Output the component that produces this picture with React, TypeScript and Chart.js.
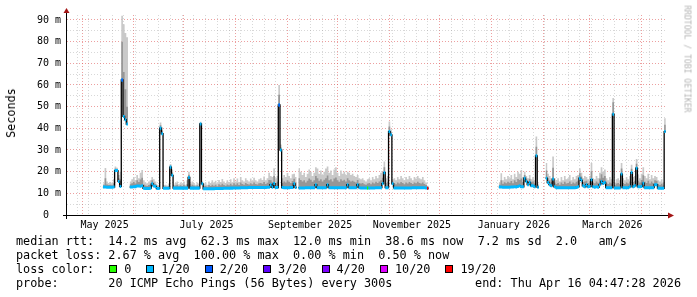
import { useEffect, useRef } from 'react';
import { Chart, registerables } from 'chart.js';

Chart.register(...registerables);

// ---------- time axis (day 0 = left edge of the plot) ----------
const axisStart = '2025-04-22';
const axisSpanDays = 359.2;
const firstWeekLine = '2025-04-28';
const monthStarts = [
  '2025-05-01', '2025-06-01', '2025-07-01', '2025-08-01', '2025-09-01', '2025-10-01',
  '2025-11-01', '2025-12-01', '2026-01-01', '2026-02-01', '2026-03-01', '2026-04-01',
];
const monthLabelStarts = ['2025-05-01', '2025-07-01', '2025-09-01', '2025-11-01', '2026-01-01', '2026-03-01'];
const monthLabels = ['May 2025', 'July 2025', 'September 2025', 'November 2025', 'January 2026', 'March 2026'];

// ---------- value axis (ms) ----------
const yMax = 92.3;
const yMajorValues = [10, 20, 30, 40, 50, 60, 70, 80, 90];
const yMajorLabels = ['10 m', '20 m', '30 m', '40 m', '50 m', '60 m', '70 m', '80 m', '90 m'];
const yZeroLabel = '0  ';
const yMinorValues = [5, 15, 25, 35, 45, 55, 65, 75, 85];

// ---------- measured series (day index from axisStart) ----------
const segAStart = 22;
const medA = [12.9, 12.9, 12.8, 12.8, 12.8, 12.8, 12.9, 20.5, 20.5, 15.5, 13.2, 62.3, 45.5, 44.0, 42.0];
const hiA = [14.5, 21.7, 15.5, 14.8, 15.2, 14.6, 16.5, 22.4, 21.8, 18.5, 20.0, 92.0, 88.0, 84.0, 82.0];
const midA = [13.7, 17.0, 14.1, 13.8, 14.0, 13.7, 14.7, 21.5, 21.1, 17.0, 16.5, 80.0, 66.0, 58.0, 50.0];

const segBStart = 38;
const medB = [
  12.9, 12.9, 13.0, 13.1, 13.4, 13.4, 13.3, 13.5, 12.3, 12.2,
  12.2, 12.2, 12.4, 14.4, 13.4, 13.2, 12.2, 12.2, 40.1, 37.5,
  12.3, 12.3, 12.3, 12.3, 22.1, 18.3, 12.4, 12.4, 12.4, 12.4,
  12.4, 12.4, 12.4, 12.4, 12.4, 17.3, 12.4, 12.4, 12.4, 12.4,
  12.4, 12.4, 42.0, 14.4, 12.1, 12.1, 12.1, 12.1, 12.1, 12.1,
  12.1, 12.2, 12.2, 12.2, 12.2, 12.2, 12.3, 12.3, 12.3, 12.3,
  12.4, 12.4, 12.5, 12.5, 12.5, 12.5, 12.6, 12.6, 12.6, 12.6,
  12.6, 12.7, 12.7, 12.7, 12.7, 12.7, 12.7, 12.7, 12.7, 12.7,
  12.7, 12.7, 12.8, 12.8, 14.0, 12.8, 14.5, 12.7, 12.7, 50.8,
  30.0, 12.7, 12.6, 12.6, 12.6, 12.6, 12.7, 12.7, 14.4, 12.7,
  null, 12.5, 12.5, 12.5, 12.5, 12.6, 12.6, 12.6, 12.6, 12.6,
  12.6, 14.0, 12.6, 12.6, 12.6, 12.6, 12.6, 12.6, 14.0, 12.6,
  12.6, 12.6, 12.6, 12.6, 12.6, 12.6, 12.6, 12.6, 12.6, 12.6,
  14.0, 12.6, 12.6, 12.6, 12.6, 12.6, 14.0, 12.6, 12.5, 12.5,
  12.5, 12.5, 12.5, 12.5, 12.5, 12.5, 12.5, 12.6, 12.6, 12.6,
  12.6, 14.5, 19.5, 12.6, 12.6, 38.5, 37.0, 14.4, 12.5, 12.5,
  12.5, 12.5, 12.5, 12.5, 12.5, 12.5, 12.5, 12.5, 12.5, 12.6,
  12.6, 12.6, 12.6, 12.6, 12.6, 12.6, 12.6, 12.5, 12.3,
];
const hiB = [
  15.5, 16.5, 17.5, 16.0, 18.5, 17.0, 19.5, 20.8, 16.0, 15.0,
  14.5, 15.5, 16.0, 17.5, 16.5, 15.5, 14.0, 13.8, 42.7, 40.5,
  13.8, 14.0, 13.6, 14.5, 23.5, 21.0, 14.0, 14.8, 15.5, 14.2,
  15.0, 14.5, 15.5, 14.0, 16.0, 20.0, 14.5, 15.5, 14.8, 14.0,
  15.0, 14.5, 43.0, 15.5, 14.5, 15.0, 14.0, 15.5, 14.8, 16.0,
  15.0, 15.8, 14.5, 16.2, 15.2, 16.6, 15.5, 14.8, 16.0, 15.2,
  16.5, 15.0, 17.0, 15.5, 16.8, 15.2, 17.5, 16.0, 15.5, 17.0,
  16.0, 15.5, 16.8, 15.8, 17.2, 16.0, 15.5, 16.5, 17.0, 16.2,
  17.8, 16.0, 17.0, 19.5, 18.0, 17.5, 21.6, 17.0, 18.0, 60.0,
  32.5, 17.0, 18.5, 17.5, 19.4, 18.0, 17.0, 18.8, 19.0, 17.5,
  null, 21.6, 20.0, 18.5, 19.5, 17.5, 19.0, 21.0, 20.0, 18.0,
  19.5, 22.0, 21.5, 19.0, 20.5, 18.5, 20.0, 21.5, 22.4, 19.5,
  20.5, 18.5, 21.0, 22.0, 19.5, 18.0, 20.5, 19.0, 20.0, 18.5,
  20.0, 19.5, 18.5, 19.0, 18.0, 17.5, 18.5, 17.0, 16.5, 17.0,
  16.0, 15.5, 16.5, 17.0, 16.0, 17.5, 16.5, 18.0, 17.0, 18.5,
  19.5, 20.0, 24.7, 17.0, 18.0, 43.1, 39.5, 16.5, 17.0, 16.0,
  17.5, 16.5, 18.0, 17.0, 16.0, 17.5, 16.5, 18.0, 17.0, 16.0,
  17.5, 16.8, 18.0, 17.0, 16.5, 17.5, 16.0, 15.0, 13.5,
];
const midB = [
  14.2, 14.7, 15.2, 14.5, 16.0, 15.2, 16.4, 17.2, 14.1, 13.6,
  13.4, 13.8, 14.2, 16.0, 15.0, 14.3, 13.1, 13.0, 41.4, 39.0,
  13.0, 13.2, 12.9, 13.4, 22.8, 19.6, 13.2, 13.6, 14.0, 13.3,
  13.7, 13.4, 14.0, 13.2, 14.2, 18.6, 13.4, 14.0, 13.6, 13.2,
  13.7, 13.4, 42.5, 15.0, 13.3, 13.5, 13.0, 13.8, 13.4, 14.0,
  13.5, 14.0, 13.3, 14.2, 13.7, 14.4, 13.9, 13.5, 14.1, 13.7,
  14.4, 13.7, 14.7, 14.0, 14.6, 13.8, 15.0, 14.3, 14.0, 14.8,
  14.3, 14.1, 14.7, 14.2, 15.0, 14.3, 14.1, 14.6, 14.8, 14.4,
  15.2, 14.3, 14.9, 16.1, 16.0, 15.1, 18.0, 14.8, 15.3, 55.5,
  31.2, 14.8, 15.5, 15.0, 16.0, 15.3, 14.8, 15.7, 16.7, 15.1,
  null, 17.0, 16.2, 15.5, 16.0, 15.0, 15.8, 16.8, 16.3, 15.3,
  16.0, 18.0, 17.0, 15.8, 16.5, 15.5, 16.3, 17.0, 18.2, 16.0,
  16.5, 15.5, 16.8, 17.3, 16.0, 15.3, 16.5, 15.8, 16.3, 15.5,
  17.0, 16.0, 15.5, 15.8, 15.3, 15.0, 16.2, 14.8, 14.5, 14.8,
  14.2, 14.0, 14.5, 14.8, 14.2, 15.0, 14.5, 15.3, 14.8, 15.5,
  16.0, 17.2, 22.0, 14.8, 15.3, 40.8, 38.2, 15.4, 14.8, 14.2,
  15.0, 14.5, 15.2, 14.8, 14.2, 15.0, 14.5, 15.2, 14.8, 14.3,
  15.0, 14.7, 15.3, 14.8, 14.5, 15.0, 14.3, 13.8, 12.9,
];

const segCStart = 259;
const medC = [12.9, 12.9, 12.8, 12.8, 12.8, 12.8, 12.8, 12.9, 12.9, 13.0, 12.9, 13.2, 13.5, 13.0, 13.0, 17.0, 15.5, 14.0, 15.0, 13.5, 13.5, 13.0, 27.3, 12.8];
const hiC = [15.0, 19.3, 16.0, 17.5, 16.5, 18.0, 17.0, 18.5, 16.5, 19.0, 17.5, 20.0, 19.0, 20.8, 17.5, 20.0, 18.0, 17.0, 18.5, 16.5, 17.5, 16.0, 36.2, 14.5];
const midC = [14.0, 16.0, 14.4, 15.1, 14.6, 15.4, 14.9, 15.7, 14.7, 16.0, 15.2, 16.6, 16.2, 16.9, 15.2, 18.5, 16.7, 15.5, 16.7, 15.0, 15.5, 14.5, 31.5, 13.6];

const segDStart = 287;
const medD = [
  17.0, 15.0, 14.0, 13.5, 16.6, 13.0, 12.6, 12.6, 12.6, 12.6,
  12.6, 12.6, 12.6, 12.6, 12.6, 12.6, 12.6, 12.6, 12.7, 13.0,
  17.0, 16.0, 13.5, 13.0, 14.0, 13.0, 13.2, 16.3, 13.0, 12.8,
  13.0, 12.8, 14.0, 15.5, 14.5, 15.0, 12.6, 12.6, 12.6, 12.6,
  46.5, 12.5, 12.5, 12.5, 12.5, 18.9, 12.6, 12.6, 12.6, 12.6,
  13.0, 19.6, 13.0, 13.5, 21.6, 13.0, 13.0, 13.2, 14.7, 12.6,
  12.6, 12.6, 12.6, 12.6, 12.6, 14.0, 14.0, 12.4, 12.3, 12.3,
  12.3, 38.5,
];
const hiD = [
  24.0, 19.0, 18.0, 17.0, 27.0, 17.0, 16.0, 17.0, 15.5, 17.5,
  16.0, 18.0, 16.5, 17.0, 18.5, 16.0, 17.5, 16.5, 18.0, 18.5,
  21.6, 19.5, 17.0, 18.0, 17.5, 16.5, 18.0, 24.0, 17.0, 16.5,
  18.0, 17.0, 19.5, 22.0, 20.0, 21.0, 17.0, 16.0, 17.5, 16.5,
  54.0, 15.0, 16.5, 17.0, 16.0, 24.0, 17.0, 16.0, 17.5, 16.5,
  18.0, 23.2, 17.5, 18.0, 25.8, 18.5, 17.0, 19.0, 22.0, 18.0,
  17.0, 19.0, 16.5, 18.5, 17.0, 18.0, 17.5, 16.0, 15.5, 16.5,
  15.0, 44.7,
];
const midD = [
  20.5, 17.0, 16.0, 15.2, 21.8, 15.0, 14.3, 14.8, 14.0, 15.0,
  14.3, 15.3, 14.5, 14.8, 15.5, 14.3, 15.0, 14.5, 15.3, 15.8,
  19.3, 17.8, 15.2, 15.5, 15.8, 14.8, 15.6, 20.2, 15.0, 14.6,
  15.5, 14.9, 16.8, 18.8, 17.2, 18.0, 14.8, 14.3, 15.0, 14.5,
  52.0, 13.7, 14.5, 14.8, 14.2, 21.5, 14.8, 14.3, 15.0, 14.5,
  15.5, 21.4, 15.2, 15.8, 23.7, 15.8, 15.0, 16.1, 18.4, 15.3,
  14.8, 15.8, 14.5, 15.5, 14.8, 16.0, 15.8, 14.2, 13.9, 14.4,
  13.6, 41.6,
];

// ---------- loss colours ----------
const lossLabels = ['0', '1/20', '2/20', '3/20', '4/20', '10/20', '19/20'];
const lossColors = ['#26ff00', '#00b8ff', '#0059ff', '#5e00ff', '#7e00ff', '#dd00ff', '#ff0000'];
const defaultLossLevel = 1;
const lossExceptionDays = [33, 127, 180, 216];
const lossExceptionLevels = [2, 2, 0, 6];

// ---------- legend text ----------
const rttStats = ['14.2 ms avg', '62.3 ms max', '12.0 ms min', '38.6 ms now', '7.2 ms sd', '2.0   am/s'];
const lossStats = ['2.67 % avg', '100.00 % max', '0.00 % min', '0.50 % now'];
const probeText = '20 ICMP Echo Pings (56 Bytes) every 300s';
const endText = 'Thu Apr 16 04:47:28 2026';
const watermark = 'RRDTOOL / TOBI OETIKER';
const yTitle = 'Seconds';

// ---------- styling ----------
const MONO = "'DejaVu Sans Mono', monospace";
const SMOKE_LIGHT = '#c9c9c9';
const SMOKE_MID = '#969696';
const GRID_RED = 'rgba(222,80,80,0.55)';
const GRID_GRAY = 'rgba(143,143,143,0.35)';
const BAND = 0.7;
const LABEL_OFFSET = 13.5;

type Seg = { start: number; values: (number | null)[] };

const dayOf = (s: string) => {
  const p = (t: string) => t.split('-').map(Number);
  const [y, m, d] = p(s);
  const [y0, m0, d0] = p(axisStart);
  return (Date.UTC(y, m - 1, d) - Date.UTC(y0, m0 - 1, d0)) / 864e5;
};

const segMed: Seg[] = [
  { start: segAStart, values: medA }, { start: segBStart, values: medB },
  { start: segCStart, values: medC }, { start: segDStart, values: medD },
];
const segHi: Seg[] = [
  { start: segAStart, values: hiA }, { start: segBStart, values: hiB },
  { start: segCStart, values: hiC }, { start: segDStart, values: hiD },
];
const segMid: Seg[] = [
  { start: segAStart, values: midA }, { start: segBStart, values: midB },
  { start: segCStart, values: midC }, { start: segDStart, values: midD },
];

function stepPoints(segments: Seg[]) {
  const pts: { x: number; y: number | null }[] = [];
  for (const s of segments) {
    s.values.forEach((v, i) => {
      if (v == null) return;
      const d = s.start + i;
      pts.push({ x: d - 0.5, y: v });
      const nxt = s.values[i + 1];
      if (nxt == null) {
        pts.push({ x: d + 0.5, y: v });
        pts.push({ x: d + 0.5, y: null });
      }
    });
  }
  return pts;
}
const shift = (segments: Seg[], k: number): Seg[] =>
  segments.map((s) => ({ start: s.start, values: s.values.map((v) => (v == null ? null : v + k)) }));
const medianAt = (d: number) => {
  for (const s of segMed) {
    const i = d - s.start;
    if (i >= 0 && i < s.values.length) return s.values[i];
  }
  return null;
};

function buildConfig(): any {
  const base = { pointRadius: 0, pointHoverRadius: 0, pointHitRadius: 0, stepped: 'before', tension: 0, spanGaps: false };
  const datasets: any[] = [
    { ...base, data: stepPoints(segMed), borderColor: '#000', borderWidth: 1.3, fill: false, order: 5 },
    { ...base, data: stepPoints(segHi), borderWidth: 0, backgroundColor: SMOKE_LIGHT, fill: 0, order: 10 },
    { ...base, data: stepPoints(segMid), borderWidth: 0, backgroundColor: SMOKE_MID, fill: 0, order: 9 },
    { ...base, data: stepPoints(shift(segMed, -BAND)), borderWidth: 0, fill: false, order: 4 },
    { ...base, data: stepPoints(shift(segMed, BAND)), borderWidth: 0, backgroundColor: lossColors[defaultLossLevel], fill: 3, order: 3 },
  ];
  const levels = Array.from(new Set(lossExceptionLevels));
  levels.forEach((lv) => {
    const days = lossExceptionDays.filter((_, i) => lossExceptionLevels[i] === lv);
    const segs: Seg[] = days.map((d) => ({ start: d, values: [medianAt(d)] }));
    const loIdx = datasets.length;
    datasets.push({ ...base, data: stepPoints(shift(segs, -BAND)), borderWidth: 0, fill: false, order: 2 });
    datasets.push({ ...base, data: stepPoints(shift(segs, BAND)), borderWidth: 0, backgroundColor: lossColors[lv], fill: loIdx, order: 1 });
  });

  // x ticks: weekly minor lines, month-start major lines, mid-month labels
  const majors = monthStarts.map(dayOf);
  const xTicks: any[] = [];
  for (let d = dayOf(firstWeekLine); d <= axisSpanDays; d += 7) {
    if (!majors.some((m) => Math.abs(m - d) < 0.01)) xTicks.push({ value: d, kind: 'minor' });
  }
  majors.forEach((m) => xTicks.push({ value: m, kind: 'major' }));
  monthLabelStarts.forEach((s, i) => xTicks.push({ value: dayOf(s) + LABEL_OFFSET, kind: 'label', text: monthLabels[i] }));
  xTicks.sort((a, b) => a.value - b.value);

  const yTicks: any[] = [{ value: 0, kind: 'zero', text: yZeroLabel }];
  yMinorValues.forEach((v) => yTicks.push({ value: v, kind: 'minor', text: '' }));
  yMajorValues.forEach((v, i) => yTicks.push({ value: v, kind: 'major', text: yMajorLabels[i] }));
  yTicks.sort((a, b) => a.value - b.value);

  const gridColor = (ctx: any) => {
    const k = ctx.tick && ctx.tick.kind;
    return k === 'major' ? GRID_RED : k === 'minor' ? GRID_GRAY : 'rgba(0,0,0,0)';
  };
  const gridWidth = (ctx: any) => {
    const k = ctx.tick && ctx.tick.kind;
    return k === 'major' || k === 'minor' ? 1 : 0;
  };
  const tickFont = { family: MONO, size: 10 };

  const axesPlugin = {
    id: 'rrdAxes',
    afterDatasetsDraw(chart: any) {
      const { ctx, chartArea: a } = chart;
      ctx.save();
      ctx.strokeStyle = '#000';
      ctx.lineWidth = 1;
      ctx.setLineDash([]);
      ctx.beginPath();
      ctx.moveTo(a.left - 4, a.bottom + 0.5);
      ctx.lineTo(a.right + 1, a.bottom + 0.5);
      ctx.moveTo(a.left - 0.5, a.bottom + 4);
      ctx.lineTo(a.left - 0.5, a.top - 2);
      ctx.stroke();
      ctx.fillStyle = '#a31515';
      ctx.beginPath();
      ctx.moveTo(a.left - 3.5, a.top - 2);
      ctx.lineTo(a.left + 2.5, a.top - 2);
      ctx.lineTo(a.left - 0.5, a.top - 7);
      ctx.closePath();
      ctx.fill();
      ctx.beginPath();
      ctx.moveTo(a.right + 1, a.bottom - 2.5);
      ctx.lineTo(a.right + 1, a.bottom + 3.5);
      ctx.lineTo(a.right + 7, a.bottom + 0.5);
      ctx.closePath();
      ctx.fill();
      ctx.restore();
    },
  };

  return {
    type: 'line',
    data: { datasets },
    plugins: [axesPlugin],
    options: {
      animation: false,
      responsive: false,
      events: [],
      layout: { padding: { top: 15, right: 30, left: 0, bottom: 0 }, autoPadding: false },
      plugins: { legend: { display: false }, tooltip: { enabled: false } },
      scales: {
        x: {
          type: 'linear',
          min: 0,
          max: axisSpanDays,
          afterFit: (s: any) => { s.height = 82; },
          afterBuildTicks: (s: any) => { s.ticks = xTicks.map((t) => ({ ...t })); },
          grid: { color: gridColor, lineWidth: gridWidth, drawTicks: false },
          border: { display: false, dash: [1, 2] },
          ticks: {
            autoSkip: false, maxRotation: 0, minRotation: 0, padding: 4, color: '#000', font: tickFont,
            callback: (_v: any, i: number, ticks: any[]) => (ticks[i].kind === 'label' ? ticks[i].text : ''),
          },
        },
        y: {
          type: 'linear',
          min: 0,
          max: yMax,
          afterFit: (s: any) => { s.width = 67; },
          afterBuildTicks: (s: any) => { s.ticks = yTicks.map((t) => ({ ...t })); },
          grid: { color: gridColor, lineWidth: gridWidth, drawTicks: false },
          border: { display: false, dash: [1, 2] },
          ticks: {
            autoSkip: false, padding: 6, color: '#000', font: tickFont,
            callback: (_v: any, i: number, ticks: any[]) => ticks[i].text,
          },
        },
      },
    },
  };
}

const textBase: any = { position: 'absolute', fontFamily: MONO, fontSize: '11.8px', lineHeight: '14px', whiteSpace: 'pre', color: '#000' };

export default function App() {
  const ref = useRef<HTMLCanvasElement>(null);
  useEffect(() => {
    const chart = new Chart(ref.current as HTMLCanvasElement, buildConfig());
    return () => chart.destroy();
  }, []);
  return (
    <div style={{ position: 'absolute', left: 0, top: 0, width: 697, height: 297, background: '#fff', overflow: 'hidden' }}>
      <canvas ref={ref} width={697} height={297} style={{ position: 'absolute', left: 0, top: 0, width: 697, height: 297 }} />
      <div style={{ ...textBase, left: 11, top: 113, transform: 'translate(-50%, -50%) rotate(-90deg)' }}>{yTitle}</div>
      <div style={{ ...textBase, left: 687, top: 59, fontSize: '8.1px', lineHeight: '9px', color: '#b4b4b4', transform: 'translate(-50%, -50%) rotate(90deg)' }}>{watermark}</div>
      <div style={{ ...textBase, left: 16, top: 234 }}>{'median rtt:  ' + rttStats.join('  ')}</div>
      <div style={{ ...textBase, left: 16, top: 248 }}>{'packet loss: ' + lossStats.join('  ')}</div>
      <div style={{ ...textBase, left: 16, top: 262, display: 'flex', alignItems: 'center', height: 14 }}>
        <span>loss color:</span>
        {lossLabels.map((l, i) => (
          <span key={l} style={{ display: 'flex', alignItems: 'center', marginLeft: 15 }}>
            <span style={{ display: 'inline-block', width: 6, height: 6, border: '1px solid #000', background: lossColors[i], marginRight: 7 }} />
            <span>{l}</span>
          </span>
        ))}
      </div>
      <div style={{ ...textBase, left: 16, top: 276 }}>{'probe:       ' + probeText}</div>
      <div style={{ ...textBase, right: 16, top: 276 }}>{'end: ' + endText}</div>
    </div>
  );
}
